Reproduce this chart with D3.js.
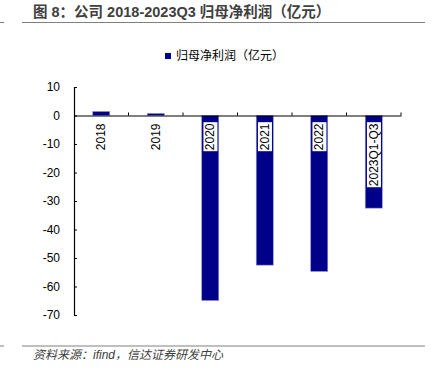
<!DOCTYPE html>
<html>
<head>
<meta charset="utf-8">
<script src="https://cdn.jsdelivr.net/npm/d3@7"></script>
<style>
body { margin: 0; background: #fff; }
text { font-family: "Liberation Sans", Arial, sans-serif; }
.cjk { font-family: "Liberation Sans", "Noto Sans CJK SC", sans-serif; }
</style>
</head>
<body>
<script>
// chart data
let categories = ["2018", "2019", "2020", "2021", "2022", "2023Q1-Q3"];
let profit = [1.4, 0.7, -64.9, -52.5, -54.7, -32.5];
let yTicks = [10, 0, -10, -20, -30, -40, -50, -60, -70];

let W = 440, H = 374;
let plot = {left: 74, right: 401, top: 87, bottom: 315};
let font = "'Liberation Sans', Arial, sans-serif";

let svg = d3.select("body").append("svg")
	.attr("width", W)
	.attr("height", H);

// title and frame lines
svg.append("text")
	.attr("class", "cjk")
	.attr("x", 33).attr("y", 17)
	.attr("font-size", 14.5).attr("font-weight", "bold")
	.attr("fill", "#404040")
	.text("图 8：公司 2018-2023Q3 归母净利润（亿元）");

[22.5, 346].forEach(function(y) {
	svg.append("line").attr("x1", 22).attr("x2", 425).attr("y1", y).attr("y2", y)
		.attr("stroke", "#808080").attr("stroke-width", 1);
	svg.append("line").attr("x1", 0).attr("x2", 4).attr("y1", y).attr("y2", y)
		.attr("stroke", "#808080").attr("stroke-width", 1);
});

svg.append("text")
	.attr("class", "cjk")
	.attr("x", 33).attr("y", 359)
	.attr("font-size", 12).attr("font-style", "italic")
	.attr("fill", "#404040")
	.text("资料来源：ifind，信达证券研发中心");

// legend
svg.append("rect").attr("x", 165).attr("y", 53).attr("width", 6).attr("height", 6)
	.attr("fill", "#000088");
svg.append("text")
	.attr("class", "cjk")
	.attr("x", 176).attr("y", 60)
	.attr("font-size", 12).attr("fill", "#000")
	.text("归母净利润（亿元）");

// scales
let xScale = d3.scaleBand().domain(categories).range([plot.left, plot.right]).paddingInner(0).paddingOuter(0);
let yScale = d3.scaleLinear().domain([-70, 10]).range([plot.bottom, plot.top]);

// bars
let barW = 17;
svg.selectAll(".bar")
		.data(profit)
	.enter().append("rect")
		.attr("class", "bar")
		.attr("x", function(d, i) { return xScale(categories[i]) + xScale.bandwidth() / 2 - barW / 2; })
		.attr("width", barW)
		.attr("y", function(d) { return yScale(Math.max(0, d)); })
		.attr("height", function(d) { return Math.abs(yScale(d) - yScale(0)); })
		.attr("fill", "#000088")
		.attr("stroke", "#8c8cd6")
		.attr("stroke-width", 0.6);

// y axis (plain hyphen for negatives, like the source)
let yAxis = svg.append("g")
	.attr("transform", "translate(" + plot.left + ",0)")
	.call(d3.axisLeft(yScale).tickValues(yTicks).tickSize(-3).tickSizeOuter(0).tickPadding(14)
		.tickFormat(function(d) { return String(d); }));
yAxis.select(".domain").attr("stroke", "#000").attr("stroke-width", 1.2);
yAxis.selectAll(".tick line").attr("stroke", "#000");
yAxis.selectAll("text").attr("font-size", 12).attr("fill", "#000")
	.attr("font-family", font);

// category axis at zero
let zero = yScale(0);
let xAxis = svg.append("g")
	.attr("transform", "translate(0," + zero + ")")
	.call(d3.axisTop(xScale).tickValues([]).tickSizeOuter(0));
xAxis.select(".domain").attr("stroke", "#000").attr("stroke-width", 1.2);
let boundaries = d3.range(1, categories.length + 1).map(function(i) { return plot.left + i * xScale.step(); });
svg.selectAll(".xtick")
		.data(boundaries)
	.enter().append("line")
		.attr("x1", function(d) { return d; }).attr("x2", function(d) { return d; })
		.attr("y1", zero).attr("y2", zero - 3)
		.attr("stroke", "#000");

// category labels, rotated, with white background
let labels = svg.selectAll(".lab")
		.data(categories)
	.enter().append("g")
		.attr("transform", function(d) {
			return "translate(" + (xScale(d) + xScale.bandwidth() / 2) + "," + (zero + 8) + ") rotate(-90)";
		});
labels.append("text")
	.attr("text-anchor", "end")
	.attr("dy", "0.35em")
	.attr("font-size", 12)
	.attr("font-family", font)
	.attr("fill", "#000")
	.text(function(d) { return d; });
labels.each(function(d, i) {
	if (profit[i] >= 0) return;
	let g = d3.select(this);
	let bb = g.select("text").node().getBBox();
	g.insert("rect", "text")
		.attr("x", bb.x - 1).attr("y", bb.y)
		.attr("width", bb.width + 2).attr("height", bb.height)
		.attr("fill", "#fff");
});
</script>
</body>
</html>
